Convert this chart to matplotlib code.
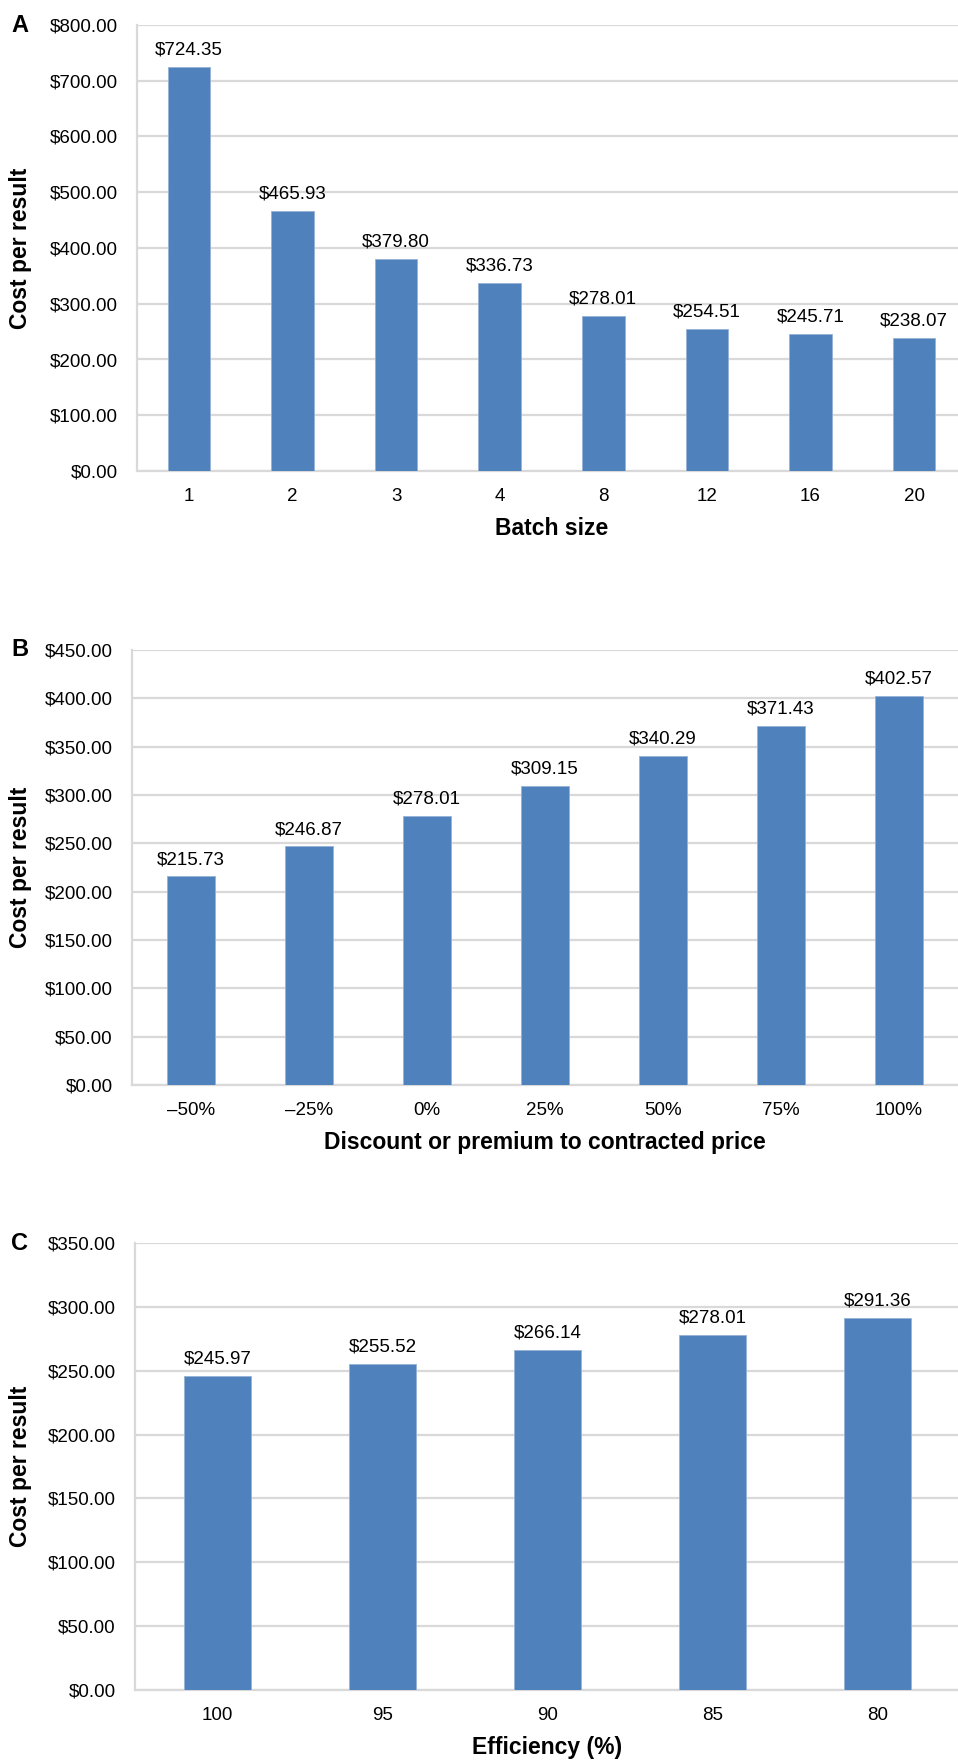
import matplotlib
matplotlib.use('Agg')
from matplotlib import pyplot as plt
from matplotlib.ticker import MultipleLocator, FuncFormatter

plt.rcParams['font.family'] = ['Liberation Sans', 'DejaVu Sans']

# Panel A - batch size
batch_labels = ['1', '2', '3', '4', '8', '12', '16', '20']
batch_cost = [724.35, 465.93, 379.80, 336.73, 278.01, 254.51, 245.71, 238.07]

# Panel B - discount / premium
price_labels = ['\u201350%', '\u201325%', '0%', '25%', '50%', '75%', '100%']
price_cost = [215.73, 246.87, 278.01, 309.15, 340.29, 371.43, 402.57]

# Panel C - efficiency
eff_labels = ['100', '95', '90', '85', '80']
eff_cost = [245.97, 255.52, 266.14, 278.01, 291.36]

W, H = 958, 1762
BAR = '#4F81BD'
GRID = '#D9D9D9'

fig = plt.figure(figsize=(W / 100, H / 100), dpi=100)


def px_axes(left, top, right, bottom):
    return fig.add_axes([left / W, 1 - bottom / H, (right - left) / W, (bottom - top) / H])


def draw_panel(ax, labels, values, ymax, step, xlabel, letter, left, top):
    x = range(len(labels))
    ax.bar(x, values, width=0.41, color=BAR, edgecolor='#95B3D7', linewidth=0.6, zorder=3)
    for i, v in enumerate(values):
        ax.annotate(f'${v:,.2f}', (i, v), xytext=(0, 6), textcoords='offset points',
                    ha='center', va='bottom', fontsize=13.5, color='black')
    ax.set_xlim(-0.5, len(labels) - 0.5)
    ax.set_ylim(0, ymax)
    ax.yaxis.set_major_locator(MultipleLocator(step))
    ax.yaxis.set_major_formatter(FuncFormatter(lambda v, p: f'${v:,.2f}'))
    ax.set_xticks(list(x))
    ax.set_xticklabels(labels)
    ax.tick_params(axis='both', length=0, labelsize=13.5, pad=12)
    ax.tick_params(axis='y', pad=14)
    ax.grid(axis='y', color=GRID, linewidth=1.6, zorder=0)
    ax.set_axisbelow(True)
    for s in ['top', 'right']:
        ax.spines[s].set_visible(False)
    for s in ['left', 'bottom']:
        ax.spines[s].set_color(GRID)
        ax.spines[s].set_linewidth(1.6)
    ax.set_xlabel(xlabel, fontsize=16.5, fontweight='bold', labelpad=9)
    ax.set_ylabel('Cost per result', fontsize=16.5, fontweight='bold')
    bbox = ax.get_position()
    ax.yaxis.set_label_coords((32 - left) / (bbox.width * W), 0.5)
    fig.text(20 / W, 1 - top / H, letter, fontsize=17, fontweight='bold', ha='center', va='center')


axA = px_axes(137, 25, 966, 471)
draw_panel(axA, batch_labels, batch_cost, 800, 100, 'Batch size', 'A', 137, 25)

axB = px_axes(132, 650, 958, 1085)
draw_panel(axB, price_labels, price_cost, 450, 50, 'Discount or premium to contracted price', 'B', 132, 650)

axC = px_axes(135, 1243, 960, 1690)
draw_panel(axC, eff_labels, eff_cost, 350, 50, 'Efficiency (%)', 'C', 135, 1243)

fig.savefig('out.png', dpi=100)
